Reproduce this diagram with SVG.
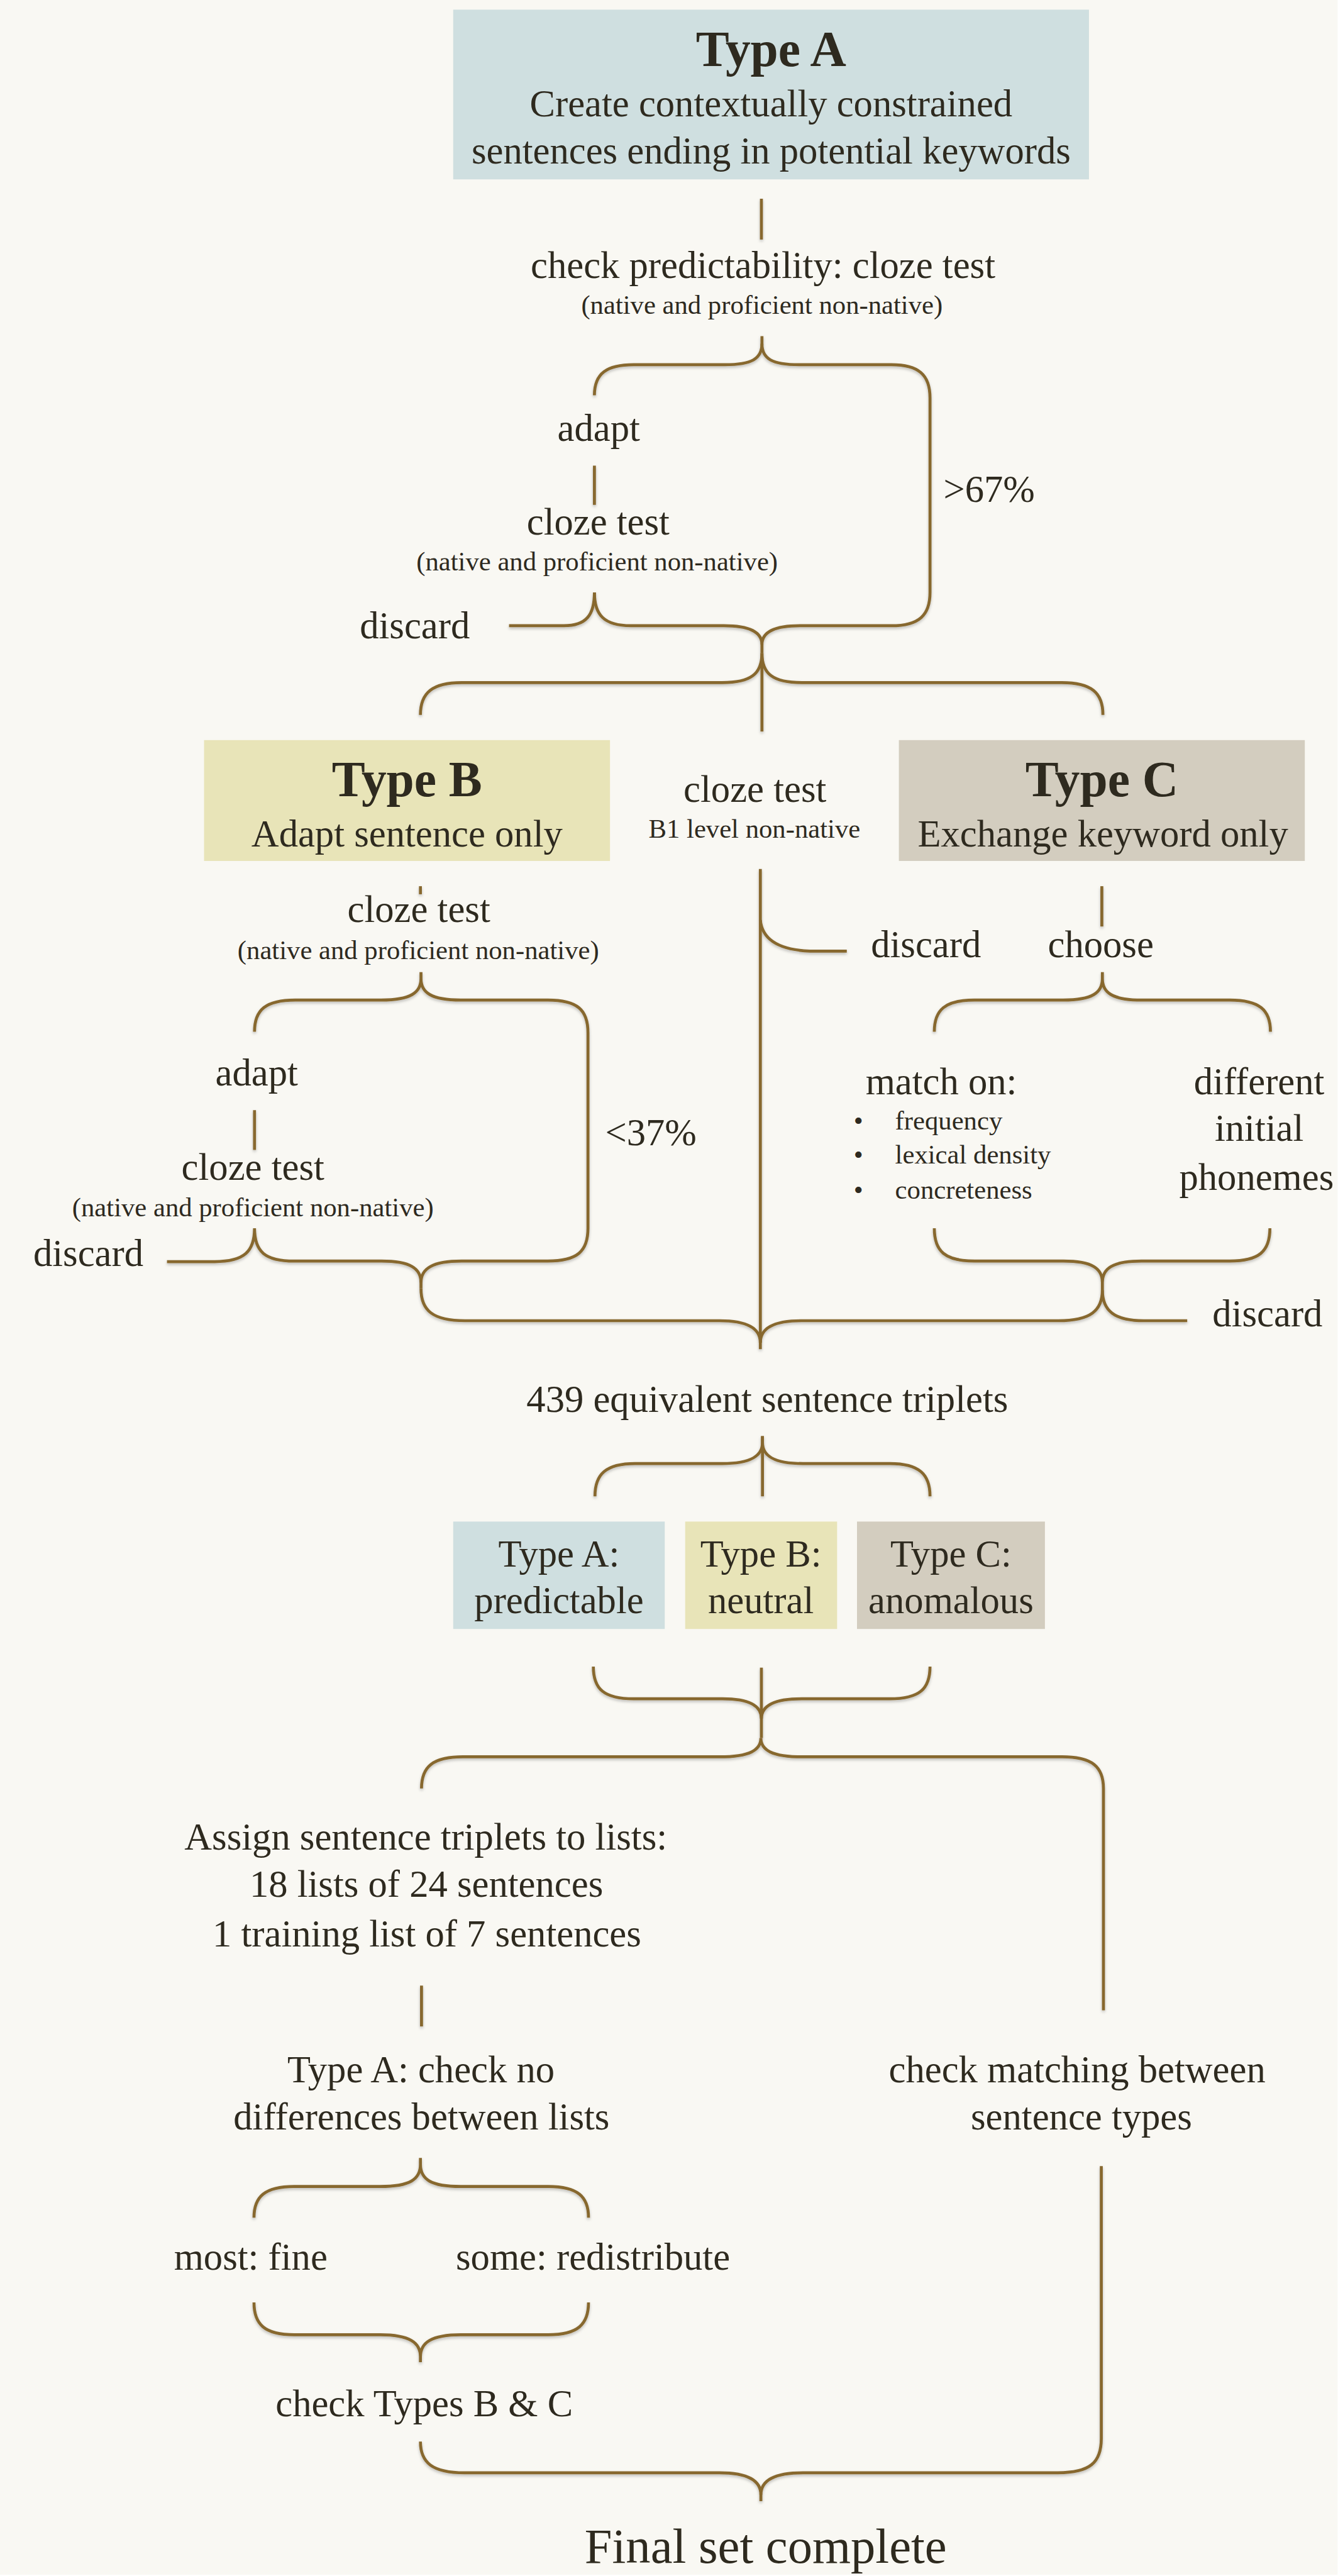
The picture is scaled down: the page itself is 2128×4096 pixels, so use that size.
<svg xmlns="http://www.w3.org/2000/svg" width="2128" height="4096" viewBox="0 0 2128 4096">
<style>
text{font-family:"Liberation Serif","Times New Roman",serif;fill:#2e2a1f;text-anchor:middle}
.t{font-size:71px}
.b{font-size:93px;font-weight:bold}
.s{font-size:50px}
.l{text-anchor:start}
.big{font-size:92px}
.c{fill:none;stroke:#87672f;stroke-width:5.5;stroke-linecap:butt}
</style>
<defs>
<filter id="sh" x="-5%" y="-5%" width="110%" height="110%">
<feDropShadow dx="0" dy="3" stdDeviation="2.5" flood-color="#000" flood-opacity="0.25"/>
</filter>
</defs>
<g transform="scale(0.854)">
<rect x="0" y="0" width="2491" height="4794" fill="#f9f8f3"/>

<g id="connectors" class="c" filter="url(#sh)">
<path d="M1418,370 L1418,446"/>
<path d="M1419,626 L1419,640 C1419,668 1400,679 1350,679 L1180,679 C1130,679 1107,695 1107,736"/>
<path d="M1419,640 C1419,668 1438,679 1488,679 L1660,679 C1710,679 1732,697 1732,741 L1732,1103 C1732,1145 1712,1165 1660,1165 L1490,1165 C1440,1165 1419,1178 1419,1200 L1419,1216"/>
<path d="M1107,867 L1107,940"/>
<path d="M1107,1103 C1107,1145 1125,1165 1175,1165 L1348,1165 C1398,1165 1419,1178 1419,1200"/>
<path d="M948,1165 L1050,1165 C1092,1165 1107,1145 1107,1103"/>
<path d="M783,1331 C783,1290 805,1271 860,1271 L1345,1271 C1398,1271 1419,1255 1419,1216 C1419,1255 1440,1271 1493,1271 L1977,1271 C2033,1271 2054,1290 2054,1331"/>
<path d="M1419,1216 L1419,1362"/>
<path d="M1416,1618 L1416,2512"/>
<path d="M1416,1713 C1420,1755 1460,1771 1520,1771 L1577,1771"/>
<path d="M783,1650 L783,1665"/>
<path d="M474,1921 C474,1880 495,1862 550,1862 L710,1862 C765,1862 784,1848 784,1822 L784,1810 M784,1822 C784,1848 803,1862 858,1862 L1020,1862 C1075,1862 1095,1880 1095,1923 L1095,2287 C1095,2330 1075,2348 1020,2348 L860,2348 C805,2348 784,2362 784,2388 L784,2399"/>
<path d="M474,2067 L474,2141"/>
<path d="M311,2349 L400,2349 C455,2349 474,2330 474,2287 C474,2330 493,2348 548,2348 L710,2348 C765,2348 784,2362 784,2388"/>
<path d="M784,2399 C784,2440 806,2459 866,2459 L1340,2459 C1395,2459 1416,2475 1416,2500"/>
<path d="M2053,2402 C2053,2440 2031,2459 1971,2459 L1492,2459 C1437,2459 1416,2475 1416,2500"/>
<path d="M2053,2402 C2053,2440 2075,2459 2130,2459 L2211,2459"/>
<path d="M2052,1650 L2052,1725"/>
<path d="M1740,1921 C1740,1880 1760,1862 1815,1862 L1980,1862 C2035,1862 2053,1848 2053,1822 L2053,1810 M2053,1822 C2053,1848 2071,1862 2126,1862 L2290,1862 C2345,1862 2366,1880 2366,1921"/>
<path d="M1740,2287 C1740,2330 1760,2348 1815,2348 L1980,2348 C2035,2348 2053,2362 2053,2388 L2053,2402 M2365,2287 C2365,2330 2345,2348 2290,2348 L2126,2348 C2071,2348 2053,2362 2053,2388"/>
<path d="M1108,2786 C1108,2745 1128,2725 1183,2725 L1345,2725 C1400,2725 1420,2710 1420,2686 L1420,2674 M1420,2686 C1420,2710 1440,2725 1495,2725 L1657,2725 C1712,2725 1732,2745 1732,2786"/>
<path d="M1420,2674 L1420,2786"/>
<path d="M1105,3103 C1105,3145 1125,3163 1180,3163 L1345,3163 C1400,3163 1418,3178 1418,3200 L1418,3236 M1732,3103 C1732,3145 1712,3163 1657,3163 L1493,3163 C1438,3163 1418,3178 1418,3200"/>
<path d="M1418,3105 L1418,3200"/>
<path d="M785,3330 C785,3290 805,3271 862,3271 L1340,3271 C1397,3271 1417,3258 1417,3236 C1417,3258 1437,3271 1494,3271 L1978,3271 C2035,3271 2055,3290 2055,3330 L2055,3743"/>
<path d="M785,3697 L785,3773"/>
<path d="M2051,4033 L2051,4540 C2051,4585 2030,4604 1970,4604 L1495,4604 C1440,4604 1417,4620 1417,4645 L1417,4657"/>
<path d="M783,4546 C783,4585 805,4604 865,4604 L1340,4604 C1395,4604 1417,4620 1417,4645"/>
<path d="M473,4129 C473,4090 493,4071 548,4071 L708,4071 C763,4071 783,4058 783,4030 L783,4018 M783,4030 C783,4058 803,4071 858,4071 L1021,4071 C1076,4071 1096,4090 1096,4129"/>
<path d="M473,4287 C473,4328 493,4347 548,4347 L708,4347 C763,4347 783,4362 783,4388 L783,4398 M1096,4287 C1096,4328 1076,4347 1021,4347 L858,4347 C803,4347 783,4362 783,4388"/>
</g>

<g id="typeA">
<rect x="844" y="18" width="1184" height="316" fill="#cfdfe0"/>
<text class="b" x="1436" y="123">Type A</text>
<text class="t" x="1436" y="217">Create contextually constrained</text>
<text class="t" x="1436" y="304">sentences ending in potential keywords</text>
</g>
<g id="cloze1">
<text class="t" x="1421" y="518">check predictability: cloze test</text>
<text class="s" x="1419" y="584">(native and proficient non-native)</text>
</g>
<g id="adaptA"><text class="t" x="1115" y="821">adapt</text></g>
<g id="clozeA2">
<text class="t" x="1114" y="995">cloze test</text>
<text class="s" x="1112" y="1062">(native and proficient non-native)</text>
</g>
<g id="discardA"><text class="t l" x="670" y="1188">discard</text></g>
<g id="gt67"><text class="t l" x="1757" y="934">&gt;67%</text></g>

<g id="typeB">
<rect x="380" y="1378" width="756" height="225" fill="#e8e4b8"/>
<text class="b" x="758" y="1483">Type B</text>
<text class="t" x="758" y="1576">Adapt sentence only</text>
</g>
<g id="clozeMid">
<text class="t" x="1406" y="1493">cloze test</text>
<text class="s" x="1405" y="1560">B1 level non-native</text>
</g>
<g id="typeC">
<rect x="1674" y="1378" width="756" height="225" fill="#d3cdbf"/>
<text class="b" x="2052" y="1483">Type C</text>
<text class="t" x="2054" y="1576">Exchange keyword only</text>
</g>

<g id="clozeB">
<text class="t" x="780" y="1717">cloze test</text>
<text class="s" x="779" y="1786">(native and proficient non-native)</text>
</g>
<g id="discardMid"><text class="t l" x="1622" y="1782">discard</text></g>
<g id="choose"><text class="t" x="2050" y="1782">choose</text></g>
<g id="adaptB"><text class="t" x="478" y="2021">adapt</text></g>
<g id="clozeB2">
<text class="t" x="471" y="2197">cloze test</text>
<text class="s" x="471" y="2265">(native and proficient non-native)</text>
</g>
<g id="discardB"><text class="t l" x="62" y="2357">discard</text></g>
<g id="lt37"><text class="t l" x="1127" y="2132">&lt;37%</text></g>
<g id="matchOn">
<text class="t" x="1753" y="2037">match on:</text>
<text class="s l" x="1590" y="2103">•</text>
<text class="s l" x="1667" y="2103">frequency</text>
<text class="s l" x="1590" y="2166">•</text>
<text class="s l" x="1667" y="2166">lexical density</text>
<text class="s l" x="1590" y="2232">•</text>
<text class="s l" x="1667" y="2232">concreteness</text>
</g>
<g id="different">
<text class="t" x="2345" y="2037">different</text>
<text class="t" x="2345" y="2124">initial</text>
<text class="t" x="2340" y="2215">phonemes</text>
</g>
<g id="discardC"><text class="t l" x="2258" y="2469">discard</text></g>

<g id="triplets"><text class="t" x="1429" y="2629">439 equivalent sentence triplets</text></g>
<g id="boxA2">
<rect x="844" y="2833" width="394" height="200" fill="#cfdfe0"/>
<text class="t" x="1041" y="2917">Type A:</text>
<text class="t" x="1041" y="3004">predictable</text>
</g>
<g id="boxB2">
<rect x="1276" y="2833" width="283" height="200" fill="#e8e4b8"/>
<text class="t" x="1417" y="2917">Type B:</text>
<text class="t" x="1417" y="3004">neutral</text>
</g>
<g id="boxC2">
<rect x="1596" y="2833" width="350" height="200" fill="#d3cdbf"/>
<text class="t" x="1771" y="2917">Type C:</text>
<text class="t" x="1771" y="3004">anomalous</text>
</g>

<g id="assign">
<text class="t" x="793" y="3444">Assign sentence triplets to lists:</text>
<text class="t" x="794" y="3532">18 lists of 24 sentences</text>
<text class="t" x="795" y="3624">1 training list of 7 sentences</text>
</g>
<g id="checkA">
<text class="t" x="784" y="3877">Type A: check no</text>
<text class="t" x="785" y="3965">differences between lists</text>
</g>
<g id="checkMatching">
<text class="t" x="2006" y="3877">check matching between</text>
<text class="t" x="2014" y="3965">sentence types</text>
</g>
<g id="mostFine"><text class="t l" x="324" y="4226">most: fine</text></g>
<g id="someRedistribute"><text class="t l" x="849" y="4226">some: redistribute</text></g>
<g id="checkBC"><text class="t" x="790" y="4499">check Types B &amp; C</text></g>
<g id="final"><text class="big" x="1426" y="4772">Final set complete</text></g>
</g>
</svg>
